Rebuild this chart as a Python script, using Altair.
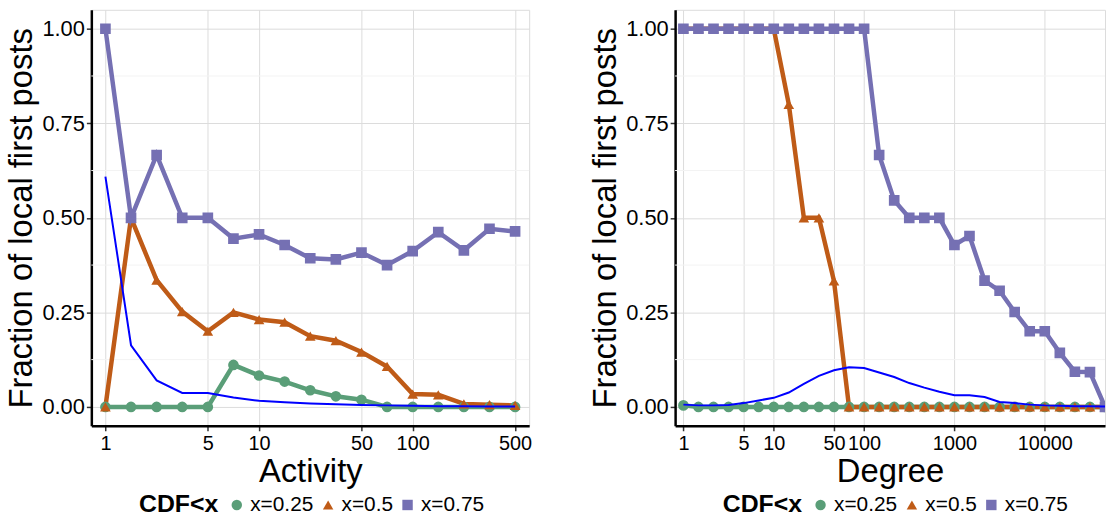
import json
import altair as alt
import pandas as pd

FONT = "Liberation Sans"

series_names = ["x=0.25", "x=0.5", "x=0.75"]
series_colors = ["#5A9E78", "#BF5B17", "#7570B3"]
series_shapes = ["circle", "triangle-up", "square"]

y_ticks = [0.0, 0.25, 0.5, 0.75, 1.0]
y_minor = [0.125, 0.375, 0.625, 0.875]

activity_bins = [1, 2, 3, 4, 5, 7, 10, 14, 20, 30, 50, 70, 100, 140, 200, 300, 500]
activity_ticks = [1, 5, 10, 50, 100, 500]
activity_q25 = [0, 0, 0, 0, 0, 0.111, 0.083, 0.067, 0.044, 0.028, 0.019, 0, 0, 0, 0, 0, 0]
activity_q50 = [0, 0.5, 0.335, 0.252, 0.2, 0.25, 0.231, 0.224, 0.187, 0.175, 0.145, 0.107,
                0.034, 0.032, 0.008, 0.006, 0.004]
activity_q75 = [1.0, 0.5, 0.666, 0.5, 0.5, 0.445, 0.456, 0.428, 0.393, 0.390, 0.408, 0.375,
                0.412, 0.462, 0.414, 0.471, 0.464]
activity_blue = [0.609, 0.163, 0.07, 0.037, 0.037, 0.025, 0.016, 0.012, 0.009, 0.007, 0.005,
                 0.004, 0.003, 0.002, 0.002, 0.001, 0.001]

degree_bins = [1, 2, 3, 4, 5, 7, 10, 14, 20, 30, 50, 70, 100, 140, 200, 300, 500, 700, 1000,
               1400, 2000, 3000, 5000, 7000, 10000, 14000, 20000, 30000, 50000]
degree_ticks = [1, 5, 10, 50, 100, 1000, 10000]
degree_q25 = [0.004, 0, 0, 0, 0, 0, 0, 0, 0, 0, 0, 0, 0, 0, 0, 0, 0, 0, 0, 0, 0, 0, 0, 0, 0,
              0, 0, 0, 0]
degree_q50 = [1, 1, 1, 1, 1, 1, 1, 0.8, 0.5, 0.5, 0.333, 0, 0, 0, 0, 0, 0, 0, 0, 0, 0, 0, 0,
              0, 0, 0, 0, 0, 0]
degree_q75 = [1, 1, 1, 1, 1, 1, 1, 1, 1, 1, 1, 1, 1, 0.666, 0.546, 0.5, 0.5, 0.5, 0.428, 0.452,
              0.334, 0.307, 0.251, 0.2, 0.2, 0.143, 0.093, 0.092, 0]
degree_blue = [0.006, 0.004, 0.004, 0.005, 0.01, 0.017, 0.024, 0.038, 0.061, 0.082, 0.097,
               0.105, 0.103, 0.091, 0.079, 0.063, 0.051, 0.04, 0.031, 0.031, 0.026, 0.013,
               0.01, 0.006, 0.004, 0.003, 0.002, 0.002, 0.001]


def panel(bins, ticks, q25, q50, q75, blue, xtitle, width, right_pad):
    rows = []
    for name, vals in zip(series_names, [q25, q50, q75]):
        for i, (b, v) in enumerate(zip(bins, vals)):
            rows.append({"idx": i, "bin": b, "series": name, "value": v})
    df = pd.DataFrame(rows)
    blue_df = pd.DataFrame({"idx": list(range(len(bins))), "bin": bins, "value": blue})
    minor_df = pd.DataFrame({"value": y_minor})

    tick_idx = [bins.index(t) for t in ticks]
    label_arr = json.dumps([str(b) for b in bins])

    x_enc = alt.X(
        "idx:Q",
        scale=alt.Scale(domain=[-0.55, len(bins) - 1 + right_pad], nice=False, zero=False),
        axis=alt.Axis(values=tick_idx, labelExpr=f"{label_arr}[datum.value]", title=xtitle,
                      labelFontSize=20, titleFontSize=33, labelOverlap=False,
                      labelPadding=3, titlePadding=2),
    )
    y_enc = alt.Y(
        "value:Q",
        scale=alt.Scale(domain=[-0.05, 1.05], nice=False, zero=False),
        axis=alt.Axis(values=y_ticks, format=".2f", title="Fraction of local first posts",
                      labelFontSize=22, titleFontSize=33, labelPadding=2, titlePadding=3),
    )
    legend = alt.Legend(title="CDF<x", orient="none", legendX=48, legendY=488,
                        direction="horizontal", titleOrient="left")
    color = alt.Color("series:N",
                      scale=alt.Scale(domain=series_names, range=series_colors),
                      legend=legend)
    shape = alt.Shape("series:N",
                      scale=alt.Scale(domain=series_names, range=series_shapes),
                      legend=legend)

    minor = alt.Chart(minor_df).mark_rule(color="#f3f3f3", strokeWidth=1).encode(
        y=alt.Y("value:Q", scale=alt.Scale(domain=[-0.05, 1.05], nice=False, zero=False))
    )
    lines = alt.Chart(df).mark_line(strokeWidth=4.5, clip=True).encode(
        x=x_enc, y=y_enc, color=color, detail="series:N"
    )
    points = alt.Chart(df).mark_point(filled=True, opacity=1, size=115, clip=True).encode(
        x=x_enc, y=y_enc, color=color, shape=shape
    )
    blue_line = alt.Chart(blue_df).mark_line(color="#0000FF", strokeWidth=2, clip=True).encode(
        x=x_enc, y=y_enc
    )
    return alt.layer(minor, lines, points, blue_line).properties(width=width, height=419)


left = panel(activity_bins, activity_ticks, activity_q25, activity_q50, activity_q75,
             activity_blue, "Activity", 441, 0.55)
right = panel(degree_bins, degree_ticks, degree_q25, degree_q50, degree_q75,
              degree_blue, "Degree", 433, 0.0)

chart = (
    alt.hconcat(left, right, spacing=56)
    .resolve_legend(color="independent", shape="independent")
    .properties(padding={"left": 5, "top": 7, "right": 0, "bottom": 0})
    .configure(font=FONT)
    .configure_view(stroke="#dcdcdc", strokeWidth=1)
    .configure_axis(
        grid=True, gridColor="#dcdcdc", gridWidth=1,
        domainColor="black", domainWidth=2.5,
        tickColor="#333333", tickSize=5, tickWidth=1.5,
        labelColor="black", titleColor="black", titleFontWeight="normal",
        labelFont=FONT, titleFont=FONT,
    )
    .configure_legend(
        titleFontSize=25, titleFontWeight="bold", titleColor="black", titleFont=FONT,
        labelFontSize=21, labelColor="black", labelFont=FONT,
        symbolSize=110, columnPadding=4, labelOffset=3, titlePadding=8,
        symbolStrokeWidth=0,
    )
)

chart.save("out.html", embed_options={"renderer": "svg", "actions": False})
